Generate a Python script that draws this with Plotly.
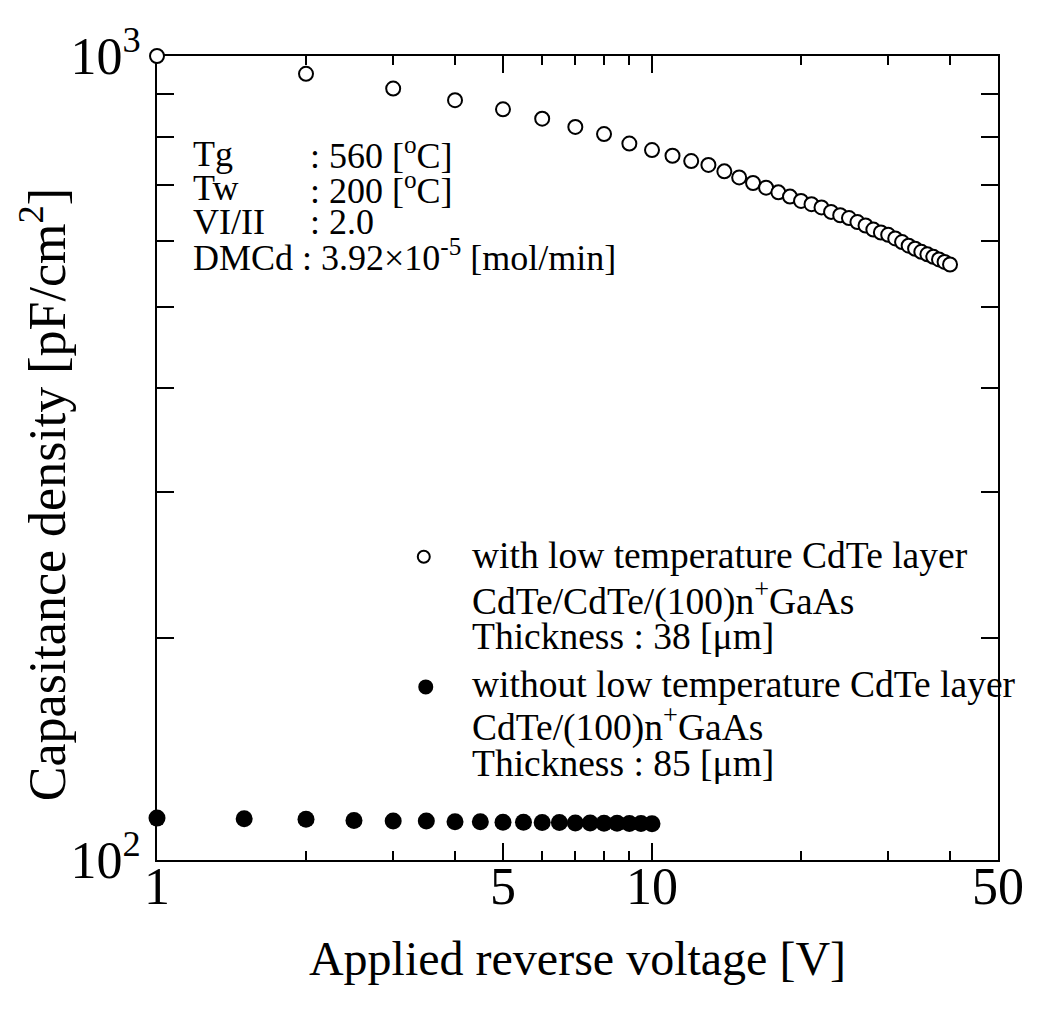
import math
import plotly.graph_objects as go

# ---------------- data ----------------
open_voltage = list(range(1, 41))
open_capacitance = [1000, 952, 914, 885, 863, 841, 822, 806, 785, 771,
                    759, 748, 740, 727, 715, 704, 695, 686, 678, 670,
                    664, 658, 650, 644, 639, 632, 626, 619, 614, 610,
                    604, 598, 592, 587, 582, 578, 574, 570, 566, 562]

filled_voltage = [1, 1.5, 2, 2.5, 3, 3.5, 4, 4.5, 5, 5.5,
                  6, 6.5, 7, 7.5, 8, 8.5, 9, 9.5, 10]
filled_capacitance = [121.7, 121.5, 121.3, 120.9, 120.7, 120.7, 120.5, 120.5, 120.3, 120.3,
                      120.2, 120.2, 120.1, 120.1, 120.0, 120.0, 119.9, 119.9, 119.8]

x_range = [1, 50]
y_range = [108.4, 1000]          # bottom edge of the frame is printed "10^2" in the reference
x_major = [1, 5, 10, 50]
x_major_text = ["1", "5", "10", "50"]
x_minor = [2, 3, 4, 6, 7, 8, 9, 20, 30, 40]
y_major = [108.4, 1000]
y_major_text = ["10<sup>2</sup>", "10<sup>3</sup>"]
y_minor = [200, 300, 400, 500, 600, 700, 800, 900]

param_names = ["Tg", "Tw", "VI/II"]
param_values = [": 560 [<sup>o</sup>C]", ": 200 [<sup>o</sup>C]", ": 2.0"]
dmcd_text = "DMCd : 3.92×10<sup>-5</sup> [mol/min]"

legend_open = ["with low temperature CdTe layer",
               "CdTe/CdTe/(100)n<sup>+</sup>GaAs",
               "Thickness : 38 [μm]"]
legend_filled = ["without low temperature CdTe layer",
                 "CdTe/(100)n<sup>+</sup>GaAs",
                 "Thickness : 85 [μm]"]

x_title = "Applied reverse voltage [V]"
y_title = "Capasitance density [pF/cm<sup>2</sup>]"

# ---------------- layout geometry ----------------
W, H = 1028, 1003
L, R, T, B = 149, 31, 30, 151
PW, PH = W - L - R, H - T - B
FONT = "Liberation Serif, Times New Roman, serif"


def fx(px):
    return (px - L) / PW


def fy(py):
    return (H - B - py) / PH


fig = go.Figure()

fig.add_trace(go.Scatter(
    x=open_voltage, y=open_capacitance, mode="markers",
    marker=dict(symbol="circle", size=14, color="white",
                line=dict(color="black", width=2)),
    cliponaxis=False, showlegend=False,
    name="with low temperature CdTe layer"))

fig.add_trace(go.Scatter(
    x=filled_voltage, y=filled_capacitance, mode="markers",
    marker=dict(symbol="circle", size=17, color="black",
                line=dict(color="black", width=0)),
    cliponaxis=False, showlegend=False,
    name="without low temperature CdTe layer"))

axis_common = dict(
    type="log", showline=True, linecolor="black", linewidth=2, mirror="ticks",
    ticks="inside", tickcolor="black", tickwidth=2,
    showgrid=False, zeroline=False, layer="below traces",
    ticklabeloverflow="allow",
    tickfont=dict(family=FONT, size=52, color="black"),
)

fig.update_xaxes(
    range=[math.log10(v) for v in x_range],
    tickmode="array", tickvals=x_major, ticktext=x_major_text, ticklen=17,
    minor=dict(tickmode="array", tickvals=x_minor, ticks="inside", ticklen=9,
               tickwidth=2, tickcolor="black", showgrid=False),
    ticklabelstandoff=-20,
    title=dict(text=x_title, font=dict(family=FONT, size=48, color="black"),
               standoff=27),
    **axis_common)

fig.update_yaxes(
    range=[math.log10(v) for v in y_range],
    tickmode="array", tickvals=y_major, ticktext=y_major_text, ticklen=17,
    minor=dict(tickmode="array", tickvals=y_minor, ticks="inside", ticklen=17,
               tickwidth=2, tickcolor="black", showgrid=False),
    ticklabelstandoff=4,
    **axis_common)

ann = []
# y-axis title
ann.append(dict(xref="paper", yref="paper", x=fx(34), y=fy(478),
                text=y_title, textangle=-90, showarrow=False,
                xanchor="center", yanchor="middle",
                font=dict(family=FONT, size=52, color="black")))

# growth parameter block
rows_y = [130, 165, 200]
for name, val, ry in zip(param_names, param_values, rows_y):
    ann.append(dict(xref="paper", yref="paper", x=fx(183), y=fy(ry),
                    text=name, showarrow=False, xanchor="left", yanchor="middle",
                    font=dict(family=FONT, size=36, color="black")))
    ann.append(dict(xref="paper", yref="paper", x=fx(301), y=fy(ry),
                    text=val, showarrow=False, xanchor="left", yanchor="middle",
                    font=dict(family=FONT, size=36, color="black")))
ann.append(dict(xref="paper", yref="paper", x=fx(183), y=fy(234),
                text=dmcd_text, showarrow=False, xanchor="left", yanchor="middle",
                font=dict(family=FONT, size=36, color="black")))

# legend text
leg_rows = [541, 585, 623, 673, 714, 753]
for txt, ry in zip(legend_open + legend_filled, leg_rows):
    ann.append(dict(xref="paper", yref="paper", x=fx(465), y=fy(ry),
                    text=txt, showarrow=False, xanchor="left", yanchor="middle",
                    font=dict(family=FONT, size=37.5, color="black")))

shapes = [
    dict(type="circle", xref="paper", yref="paper",
         xsizemode="pixel", ysizemode="pixel",
         xanchor=fx(418), yanchor=fy(542),
         x0=-6, x1=6, y0=-6, y1=6,
         line=dict(color="black", width=2), fillcolor="white"),
    dict(type="circle", xref="paper", yref="paper",
         xsizemode="pixel", ysizemode="pixel",
         xanchor=fx(420), yanchor=fy(675),
         x0=-7.5, x1=7.5, y0=-7.5, y1=7.5,
         line=dict(color="black", width=0), fillcolor="black"),
]

fig.update_layout(
    width=W, height=H,
    margin=dict(l=L, r=R, t=T, b=B, pad=0),
    paper_bgcolor="white", plot_bgcolor="white",
    font=dict(family=FONT, color="black"),
    annotations=ann, shapes=shapes,
    showlegend=False,
)

fig.write_html("out.html")
